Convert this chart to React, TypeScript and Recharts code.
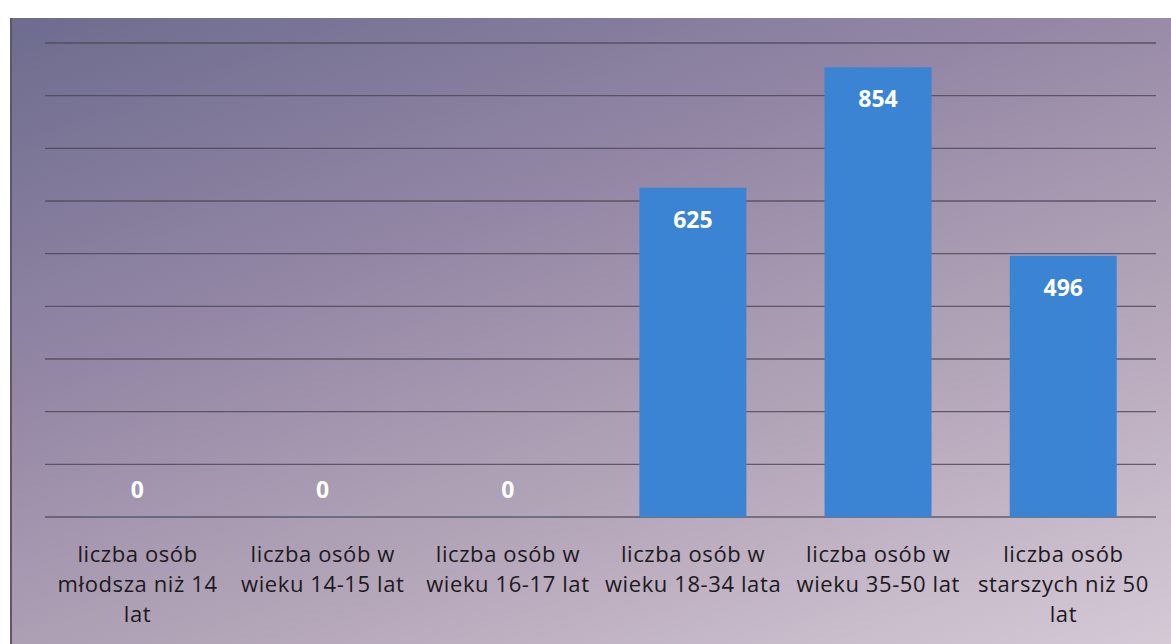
import { BarChart, Bar, XAxis, YAxis, CartesianGrid, LabelList } from "recharts";

// kategorie wiekowe (etykiety osi w liniach, tak jak na wykresie)
const categories = [
  "młodsza niż 14",
  "14-15 lat",
  "16-17 lat",
  "18-34 lata",
  "35-50 lat",
  "starszych niż 50",
];
const tickLines = [
  ["liczba osób", "młodsza niż 14", "lat"],
  ["liczba osób w", "wieku 14-15 lat"],
  ["liczba osób w", "wieku 16-17 lat"],
  ["liczba osób w", "wieku 18-34 lata"],
  ["liczba osób w", "wieku 35-50 lat"],
  ["liczba osób", "starszych niż 50", "lat"],
];
const values = [0, 0, 0, 625, 854, 496];
const yTicks = [0, 100, 200, 300, 400, 500, 600, 700, 800, 900];

// etykieta jako tekst, żeby zera też się pokazały
const data = categories.map((c, i) => ({ name: c, value: values[i], text: String(values[i]) }));

const FONT = "'Open Sans', sans-serif";

function AxisTick(props: any) {
  const { x, y, payload } = props;
  const lines = tickLines[payload.index] || [];
  return (
    <g>
      {lines.map((l, i) => (
        <text
          key={i}
          x={x}
          y={y + i * 30}
          textAnchor="middle"
          dominantBaseline="central"
          fontFamily={FONT}
          fontSize={22}
          letterSpacing={0.6}
          fill="#1c1a1e"
        >
          {l}
        </text>
      ))}
    </g>
  );
}

function ValueLabel(props: any) {
  const { x, y, width, height, value } = props;
  const cy = Number(value) === 0 ? y + height - 28 : y + 31;
  return (
    <text
      x={x + width / 2}
      y={cy}
      textAnchor="middle"
      dominantBaseline="central"
      fontFamily={FONT}
      fontWeight="bold"
      fontSize={23}
      fill="#ffffff"
    >
      {value}
    </text>
  );
}

export default function App() {
  return (
    <div style={{ position: "absolute", left: 0, top: 0, width: 1171, height: 644, background: "#fff" }}>
      <div
        style={{
          position: "absolute",
          left: 10,
          top: 18,
          right: 0,
          bottom: 0,
          borderLeft: "2px solid #5c5866",
          background: "linear-gradient(160deg, #6d6c8e 0%, #9386a5 35%, #b2a4b7 65%, #d6c9d6 100%)",
        }}
      />
      <div style={{ position: "absolute", left: 0, top: 0 }}>
        <BarChart
          width={1171}
          height={644}
          data={data}
          margin={{ top: 43, right: 15, bottom: 27, left: 45 }}
          barCategoryGap="21%"
        >
          <CartesianGrid vertical={false} stroke="#4a4652" strokeOpacity={0.8} strokeWidth={1.4} />
          <XAxis
            dataKey="name"
            axisLine={false}
            tickLine={false}
            height={100}
            interval={0}
            tick={<AxisTick />}
            tickMargin={30}
          />
          <YAxis hide domain={[0, 900]} ticks={yTicks} />
          <Bar dataKey="value" fill="#3b84d3" minPointSize={0.2} isAnimationActive={false}>
            <LabelList dataKey="text" content={<ValueLabel />} />
          </Bar>
        </BarChart>
      </div>
    </div>
  );
}
